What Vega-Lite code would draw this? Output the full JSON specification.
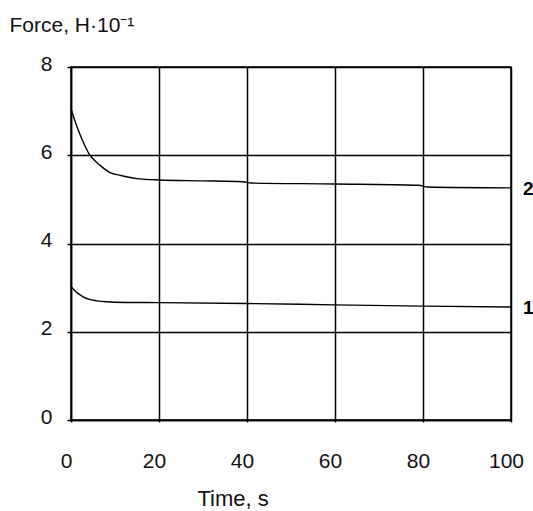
{
  "$schema": "https://vega.github.io/schema/vega-lite/v6.json",
  "width": 440,
  "height": 353,
  "autosize": {"type": "none"},
  "padding": {"left": 71, "top": 67, "right": 22, "bottom": 91},
  "background": "white",
  "config": {
    "view": {"stroke": "black", "strokeWidth": 1.5},
    "font": "Liberation Sans",
    "axis": {
      "domainColor": "black", "domainWidth": 1.5,
      "gridColor": "black", "gridWidth": 1.5, "gridOpacity": 1,
      "tickColor": "black", "tickWidth": 1.5,
      "labelColor": "#111", "labelFontSize": 21, "labelFont": "Liberation Sans",
      "titleColor": "#111", "titleFont": "Liberation Sans", "titleFontWeight": "normal", "titleFontSize": 21
    }
  },
  "datasets": {
    "curves": [
      {"t": 0, "f": 7.05, "c": "2"}, {"t": 1, "f": 6.75, "c": "2"}, {"t": 2, "f": 6.48, "c": "2"},
      {"t": 3, "f": 6.25, "c": "2"}, {"t": 4, "f": 6.05, "c": "2"}, {"t": 5, "f": 5.92, "c": "2"},
      {"t": 6.6, "f": 5.77, "c": "2"}, {"t": 9, "f": 5.6, "c": "2"}, {"t": 11, "f": 5.55, "c": "2"},
      {"t": 15, "f": 5.47, "c": "2"}, {"t": 20, "f": 5.44, "c": "2"}, {"t": 30, "f": 5.42, "c": "2"},
      {"t": 39, "f": 5.4, "c": "2"}, {"t": 41, "f": 5.37, "c": "2"}, {"t": 60, "f": 5.35, "c": "2"},
      {"t": 79, "f": 5.32, "c": "2"}, {"t": 81, "f": 5.28, "c": "2"}, {"t": 100, "f": 5.26, "c": "2"},
      {"t": 0, "f": 3.02, "c": "1"}, {"t": 1, "f": 2.92, "c": "1"}, {"t": 2, "f": 2.84, "c": "1"},
      {"t": 3, "f": 2.78, "c": "1"}, {"t": 4, "f": 2.74, "c": "1"}, {"t": 6, "f": 2.7, "c": "1"},
      {"t": 8, "f": 2.68, "c": "1"}, {"t": 10, "f": 2.67, "c": "1"}, {"t": 20, "f": 2.66, "c": "1"},
      {"t": 40, "f": 2.64, "c": "1"}, {"t": 60, "f": 2.61, "c": "1"}, {"t": 80, "f": 2.58, "c": "1"},
      {"t": 100, "f": 2.56, "c": "1"}
    ],
    "labels": [
      {"t": 100, "f": 5.26, "label": "2"},
      {"t": 100, "f": 2.56, "label": "1"}
    ]
  },
  "layer": [
    {
      "data": {"name": "curves"},
      "mark": {"type": "line", "color": "black", "strokeWidth": 1.4, "interpolate": "monotone"},
      "encoding": {
        "x": {
          "field": "t", "type": "quantitative",
          "scale": {"domain": [0, 100], "nice": false},
          "axis": {
            "values": [0, 20, 40, 60, 80, 100], "grid": true, "tickSize": 2,
            "labelPadding": 28, "labelFlush": false, "labelOffset": -5,
            "title": "Time,  s", "titleAlign": "left", "titleAnchor": null, "titleFontSize": 22,
            "titleX": 126, "titleY": 78, "titleBaseline": "middle"
          }
        },
        "y": {
          "field": "f", "type": "quantitative",
          "scale": {"domain": [0, 8], "nice": false},
          "axis": {
            "values": [0, 2, 4, 6, 8], "grid": true, "tickSize": 4,
            "labelPadding": 15, "labelBaseline": "middle", "labelOffset": -3,
            "title": "Force, H·10⁻¹", "titleAngle": 0, "titleAlign": "left",
            "titleAnchor": null, "titleX": -62, "titleY": -42, "titleBaseline": "middle"
          }
        },
        "detail": {"field": "c"}
      }
    },
    {
      "data": {"name": "labels"},
      "mark": {"type": "text", "align": "left", "dx": 12, "dy": 1, "fontWeight": "bold", "fontSize": 19, "color": "black", "font": "Liberation Sans"},
      "encoding": {
        "x": {"field": "t", "type": "quantitative"},
        "y": {"field": "f", "type": "quantitative"},
        "text": {"field": "label"}
      }
    }
  ]
}
